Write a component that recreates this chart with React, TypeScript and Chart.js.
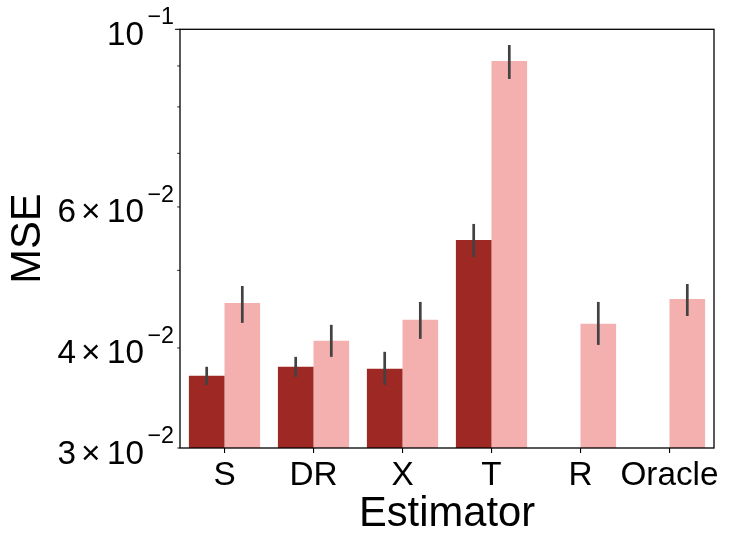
import { useEffect, useRef } from "react";
import Chart from "chart.js/auto";

// categories and values (MSE, log scale)
const estimators = ["S", "DR", "X", "T", "R", "Oracle"];
const darkMse = [0.03692, 0.03789, 0.03767, 0.05457, null, null];
const darkLow = [0.03597, 0.03681, 0.03597, 0.05196, null, null];
const darkHigh = [0.03789, 0.03899, 0.03956, 0.05714, null, null];
const lightMse = [0.04553, 0.04083, 0.04337, 0.0913, 0.04287, 0.04606];
const lightLow = [0.04299, 0.03899, 0.04106, 0.08669, 0.04035, 0.04385];
const lightHigh = [0.0478, 0.04275, 0.04566, 0.09559, 0.04566, 0.04808];

// y axis ticks
const yMinorTicks = [0.03, 0.04, 0.05, 0.06, 0.07, 0.08, 0.09];
const yMajorTicks = [0.1];
const yLabelValues = [0.03, 0.04, 0.06, 0.1];
const yLabelMantissa = ["3", "4", "6", ""];
const yLabelExponent = ["\u22122", "\u22122", "\u22122", "\u22121"];

const FONT = '"Liberation Sans", Arial, sans-serif';
const TICK_PX = 33.3;
const SUP_PX = 23.3;
const LABEL_PX = 41.7;

const errorBars = [
  { low: darkLow, high: darkHigh },
  { low: lightLow, high: lightHigh },
];

// draws text so that its ink ends at inkRight, returns ink left
function inkRightText(ctx: CanvasRenderingContext2D, s: string, inkRight: number, y: number) {
  const m = ctx.measureText(s);
  const x = inkRight - m.actualBoundingBoxRight;
  ctx.fillText(s, x, y);
  return x - m.actualBoundingBoxLeft;
}

const framePlugin = {
  id: "frame",
  afterDatasetsDraw(chart: any) {
    const ctx = chart.ctx;
    const y = chart.scales.y;
    ctx.save();
    ctx.strokeStyle = "#424242";
    ctx.lineWidth = 2.7;
    ctx.lineCap = "butt";
    errorBars.forEach((eb, di) => {
      const meta = chart.getDatasetMeta(di);
      meta.data.forEach((bar: any, i: number) => {
        if (eb.low[i] == null || eb.high[i] == null) return;
        ctx.beginPath();
        ctx.moveTo(bar.x, y.getPixelForValue(eb.low[i]));
        ctx.lineTo(bar.x, y.getPixelForValue(eb.high[i]));
        ctx.stroke();
      });
    });
    ctx.restore();
  },
  afterDraw(chart: any) {
    const ctx = chart.ctx;
    const { left, right, top, bottom } = chart.chartArea;
    const y = chart.scales.y;
    ctx.save();
    ctx.strokeStyle = "#000";
    ctx.lineWidth = 1.3;
    ctx.strokeRect(left, top, right - left, bottom - top);

    // y ticks
    ctx.lineWidth = 0.85;
    yMinorTicks.forEach((v) => {
      const py = y.getPixelForValue(v);
      ctx.beginPath();
      ctx.moveTo(left - 2.8, py);
      ctx.lineTo(left, py);
      ctx.stroke();
    });
    ctx.lineWidth = 1.1;
    yMajorTicks.forEach((v) => {
      const py = y.getPixelForValue(v);
      ctx.beginPath();
      ctx.moveTo(left - 4.9, py);
      ctx.lineTo(left, py);
      ctx.stroke();
    });

    // y tick labels: mantissa × 10^exp
    ctx.fillStyle = "#000";
    ctx.textBaseline = "alphabetic";
    ctx.textAlign = "left";
    yLabelValues.forEach((v, i) => {
      const py = y.getPixelForValue(v);
      const base = py + 15.5;
      ctx.font = `${SUP_PX}px ${FONT}`;
      let edge = inkRightText(ctx, yLabelExponent[i], left - 7, base - 20.5);
      ctx.font = `${TICK_PX}px ${FONT}`;
      edge = inkRightText(ctx, "10", edge - 5, base);
      if (yLabelMantissa[i]) {
        edge = inkRightText(ctx, "\u00d7", edge - 10, base);
        inkRightText(ctx, yLabelMantissa[i], edge - 7.5, base);
      }
    });
    ctx.restore();
  },
};

export default function App() {
  const canvasRef = useRef<HTMLCanvasElement>(null);

  useEffect(() => {
    document.body.style.margin = "0";
    if (!canvasRef.current) return;
    const chart = new Chart(canvasRef.current, {
      type: "bar",
      data: {
        labels: estimators,
        datasets: [
          {
            label: "dark",
            data: darkMse,
            backgroundColor: "#9e2824",
            categoryPercentage: 0.8,
            barPercentage: 1.0,
          },
          {
            label: "light",
            data: lightMse,
            backgroundColor: "#f4b0ae",
            categoryPercentage: 0.8,
            barPercentage: 1.0,
          },
        ],
      },
      options: {
        animation: false,
        responsive: true,
        maintainAspectRatio: false,
        layout: { padding: { top: 29.3, right: 16, left: 0, bottom: 0 } },
        plugins: {
          legend: { display: false },
          tooltip: { enabled: false },
        },
        scales: {
          x: {
            grid: {
              display: true,
              drawOnChartArea: false,
              drawTicks: true,
              tickLength: 5,
              offset: false,
              color: "#000",
              lineWidth: 1.1,
            },
            border: { display: false },
            ticks: {
              color: "#000",
              padding: 3,
              maxRotation: 0,
              autoSkip: false,
              font: { family: FONT, size: TICK_PX },
            },
            title: {
              display: true,
              text: "Estimator",
              color: "#000",
              font: { family: FONT, size: LABEL_PX, lineHeight: 1.2 },
              padding: { top: 0, bottom: 4 },
            },
            afterFit(scale: any) {
              scale.height = 96;
            },
          },
          y: {
            type: "logarithmic",
            min: 0.03,
            max: 0.1,
            grid: { display: false },
            border: { display: false },
            ticks: { display: false },
            title: {
              display: true,
              text: "MSE",
              color: "#000",
              font: { family: FONT, size: LABEL_PX, lineHeight: 1.2 },
              padding: { top: 3, bottom: 0 },
            },
            afterFit(scale: any) {
              scale.width = 180;
            },
          },
        },
      },
      plugins: [framePlugin],
    });
    return () => chart.destroy();
  }, []);

  return (
    <div style={{ width: 730, height: 544, position: "relative" }}>
      <canvas ref={canvasRef}></canvas>
    </div>
  );
}
